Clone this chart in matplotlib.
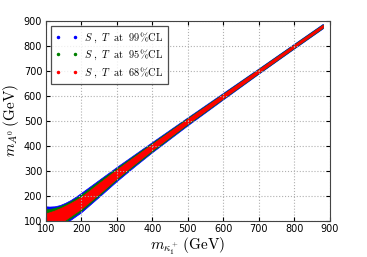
import matplotlib
matplotlib.use("Agg")
import matplotlib.pyplot as plt
from matplotlib.lines import Line2D

# band edges (GeV)
mass_x = [100, 110, 125, 140, 155, 170, 185, 200, 225, 250, 300, 350, 400, 500, 600, 700, 800, 880]
blue_hi = [158, 157, 158, 163, 172, 183, 197, 212, 238, 264, 316, 366, 416, 515, 613, 711, 810, 889]
blue_lo = [30, 45, 62, 77, 90, 104, 119, 134, 165, 196, 259, 318, 375, 483, 587, 690, 791, 871]
green_hi = [146, 147, 151, 158, 167, 178, 191, 205, 232, 259, 311, 362, 412, 512, 610, 709, 808, 887]
green_lo = [40, 55, 70, 85, 97, 111, 126, 141, 171, 202, 265, 323, 379, 487, 590, 692, 793, 873]
red_hi = [130, 134, 141, 150, 160, 171, 183, 196, 223, 251, 305, 357, 408, 509, 608, 707, 806, 885]
red_lo = [50, 62, 78, 92, 104, 119, 134, 148, 178, 208, 270, 328, 384, 490, 592, 694, 795, 875]

labels = [r'$S\ ,\ T\ \ \mathrm{at}\ \ 99\%\mathrm{CL}$',
          r'$S\ ,\ T\ \ \mathrm{at}\ \ 95\%\mathrm{CL}$',
          r'$S\ ,\ T\ \ \mathrm{at}\ \ 68\%\mathrm{CL}$']
colors = ['#0000ff', '#008000', '#ff0000']
ticks = [100, 200, 300, 400, 500, 600, 700, 800, 900]

plt.rcParams['mathtext.fontset'] = 'cm'

fig = plt.figure(figsize=(3.67, 2.57), dpi=100)
ax = fig.add_axes([0.1245, 0.141, 0.7745, 0.777])

bands = [(blue_lo, blue_hi), (green_lo, green_hi), (red_lo, red_hi)]
for (lo, hi), c in zip(bands, colors):
    ax.fill_between(mass_x, lo, hi, facecolor=c, edgecolor=c, lw=0.5)

ax.set_xlim(100, 900)
ax.set_ylim(100, 900)
ax.set_xticks(ticks)
ax.set_yticks(ticks)
ax.tick_params(direction='in', top=True, right=True, labelsize=7, length=3, pad=2.5)
ax.grid(True, color='#b0b0b0', linestyle=':', linewidth=0.8)
for s in ax.spines.values():
    s.set_color('#444444')
    s.set_linewidth(0.8)

ax.set_xlabel(r'$m_{\kappa_1^+}\,(\mathrm{GeV})$', fontsize=11, labelpad=1)
ax.set_ylabel(r'$m_{A^0}\,(\mathrm{GeV})$', fontsize=11, labelpad=2)

handles = [Line2D([], [], ls='none', marker='.', color=c, markersize=3) for c in colors]
leg = ax.legend(handles, labels, loc='upper left', numpoints=2, fontsize=7.5,
                frameon=True, fancybox=False, borderpad=0.4, labelspacing=0.3,
                handlelength=2.2, handletextpad=0.6, borderaxespad=0.5)
leg.get_frame().set_edgecolor('#222222')
leg.get_frame().set_linewidth(0.9)

fig.savefig('out.png', dpi=100)
